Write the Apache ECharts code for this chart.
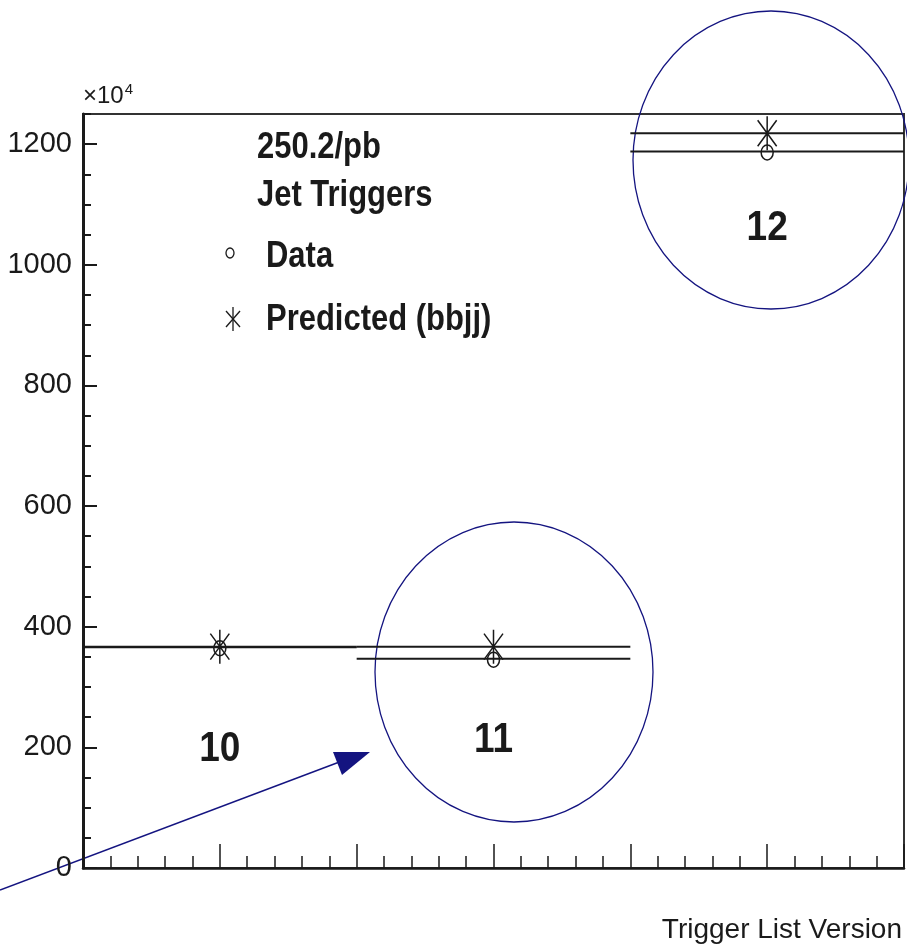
<!DOCTYPE html>
<html>
<head>
<meta charset="utf-8">
<script src="https://cdn.jsdelivr.net/npm/echarts@6/dist/echarts.min.js"></script>
<style>
  html, body { margin: 0; padding: 0; background: #fff; }
  #chart { width: 907px; height: 952px; }
</style>
</head>
<body>
<div id="chart"></div>
<script>
  // trigger list versions and event counts (x10^4)
  const versions = [10, 11, 12];
  const versionLabels = ['10', '11', '12'];
  const dataValues = [366, 347, 1188];
  const predictedValues = [367, 367, 1218];
  const yTickLabels = ['0', '200', '400', '600', '800', '1000', '1200'];

  const regular = '"Liberation Sans", Arial, sans-serif';
  const ink = '#1a1a1a';
  const navy = '#141480';

  let myChart = echarts.init(document.getElementById('chart'));

  // histogram step (one bin per version) with its marker
  function binItem(marker) {
    return function (params, api) {
      let x = api.value(0), y = api.value(1);
      let a = api.coord([x - 0.5, y]);
      let b = api.coord([x + 0.5, y]);
      let c = api.coord([x, y]);
      let children = [{
        type: 'line',
        shape: { x1: a[0], y1: a[1], x2: b[0], y2: b[1] },
        style: { stroke: ink, lineWidth: 2 }
      }];
      if (marker === 'circle') {
        children.push({
          type: 'ellipse',
          shape: { cx: c[0], cy: c[1] + 1, rx: 6, ry: 7.5 },
          style: { stroke: ink, lineWidth: 1.5, fill: 'none' }
        });
      } else {
        children.push({
          type: 'path',
          shape: {
            pathData: 'M0,-17L0,17M-9.5,-13L9.5,13M-9.5,13L9.5,-13'
          },
          x: c[0], y: c[1],
          style: { stroke: ink, lineWidth: 1.5, fill: 'none' }
        });
      }
      return { type: 'group', children: children };
    };
  }

  let option = {
    animation: false,
    backgroundColor: '#fff',
    grid: {
      left: 83, right: 3, top: 114, bottom: 84,
      outerBoundsMode: 'none',
      show: true, borderColor: '#333', borderWidth: 2
    },
    xAxis: {
      type: 'value',
      min: 9.5, max: 12.5, interval: 0.5,
      name: 'Trigger List Version',
      nameLocation: 'end',
      nameGap: -2,
      nameTextStyle: {
        fontFamily: regular, fontSize: 28, color: ink,
        align: 'right', verticalAlign: 'top', padding: [48, 0, 0, 0]
      },
      axisLine: { lineStyle: { color: ink, width: 2.5 } },
      axisTick: { inside: true, length: 24, lineStyle: { color: ink, width: 1.5 } },
      minorTick: { show: true, splitNumber: 5, length: 12, lineStyle: { color: ink, width: 1.5 } },
      axisLabel: { show: false },
      splitLine: { show: false }
    },
    yAxis: [{
      type: 'value',
      min: 0, max: 1250, interval: 200,
      name: '{a|\u00d710}{b|4}',
      nameLocation: 'end',
      nameGap: 3,
      nameTextStyle: {
        align: 'left', verticalAlign: 'bottom',
        rich: {
          a: { fontFamily: regular, fontSize: 24, color: ink },
          b: { fontFamily: regular, fontSize: 15, color: ink, padding: [0, 0, 14, 1] }
        }
      },
      axisLine: { lineStyle: { color: ink, width: 3 } },
      axisTick: { inside: true, length: 14, lineStyle: { color: ink, width: 2 } },
      axisLabel: {
        margin: 11, fontFamily: regular, fontSize: 29, color: ink,
        showMaxLabel: false,
        formatter: function (v) {
          let s = String(v);
          return yTickLabels.indexOf(s) >= 0 ? s : '';
        }
      },
      splitLine: { show: false }
    }, {
      // minor ticks every 50
      type: 'value',
      position: 'left',
      min: 0, max: 1250, interval: 50,
      axisLine: { show: false },
      axisTick: { inside: true, length: 8, lineStyle: { color: ink, width: 2 } },
      axisLabel: { show: false },
      splitLine: { show: false }
    }],
    series: [{
      name: 'Data',
      type: 'custom',
      renderItem: binItem('circle'),
      encode: { x: 0, y: 1 },
      data: versions.map((v, i) => [v, dataValues[i]]),
      z: 3
    }, {
      name: 'Predicted (bbjj)',
      type: 'custom',
      renderItem: binItem('star'),
      encode: { x: 0, y: 1 },
      data: versions.map((v, i) => [v, predictedValues[i]]),
      z: 4
    }]
  };
  myChart.setOption(option);

  // text block, legend and hand-drawn annotations
  function boldText(text, x, y, size, align) {
    return {
      type: 'text', x: x, y: y, scaleX: 0.86,
      style: {
        text: text, fill: ink,
        font: 'bold ' + size + 'px ' + regular,
        textAlign: align || 'left', textVerticalAlign: 'middle'
      }
    };
  }
  function ellipse(cx, cy, rx, ry, color, width) {
    return {
      type: 'circle', x: cx, y: cy, scaleY: ry / rx,
      shape: { cx: 0, cy: 0, r: rx },
      style: { stroke: color, lineWidth: width, fill: 'none', strokeNoScale: true }
    };
  }
  function seg(x1, y1, x2, y2) {
    return {
      type: 'line', shape: { x1: x1, y1: y1, x2: x2, y2: y2 },
      style: { stroke: ink, lineWidth: 1.3 }
    };
  }
  let labelY = [749, 740, 228];
  let elements = [
    boldText('250.2/pb', 257, 148, 36),
    boldText('Jet Triggers', 257, 196, 36),
    boldText('Data', 266, 257, 36),
    boldText('Predicted (bbjj)', 266, 320, 36),
    ellipse(230, 253, 4, 5, ink, 1.3),
    seg(233, 307, 233, 331),
    seg(226, 311, 240, 327),
    seg(226, 327, 240, 311),
    ellipse(514, 672, 139, 150, navy, 1.3),
    ellipse(771, 160, 138, 149, navy, 1.3),
    {
      type: 'line',
      shape: { x1: 0, y1: 890, x2: 350, y2: 758 },
      style: { stroke: navy, lineWidth: 1.5 }
    },
    {
      type: 'polygon',
      shape: { points: [[333, 752], [370, 752], [342, 775]] },
      style: { fill: navy }
    }
  ];
  versions.forEach(function (v, i) {
    let px = myChart.convertToPixel({ xAxisIndex: 0 }, v);
    elements.push(boldText(versionLabels[i], px, labelY[i], 43, 'center'));
  });
  myChart.setOption({ graphic: { elements: elements } });
</script>
</body>
</html>
